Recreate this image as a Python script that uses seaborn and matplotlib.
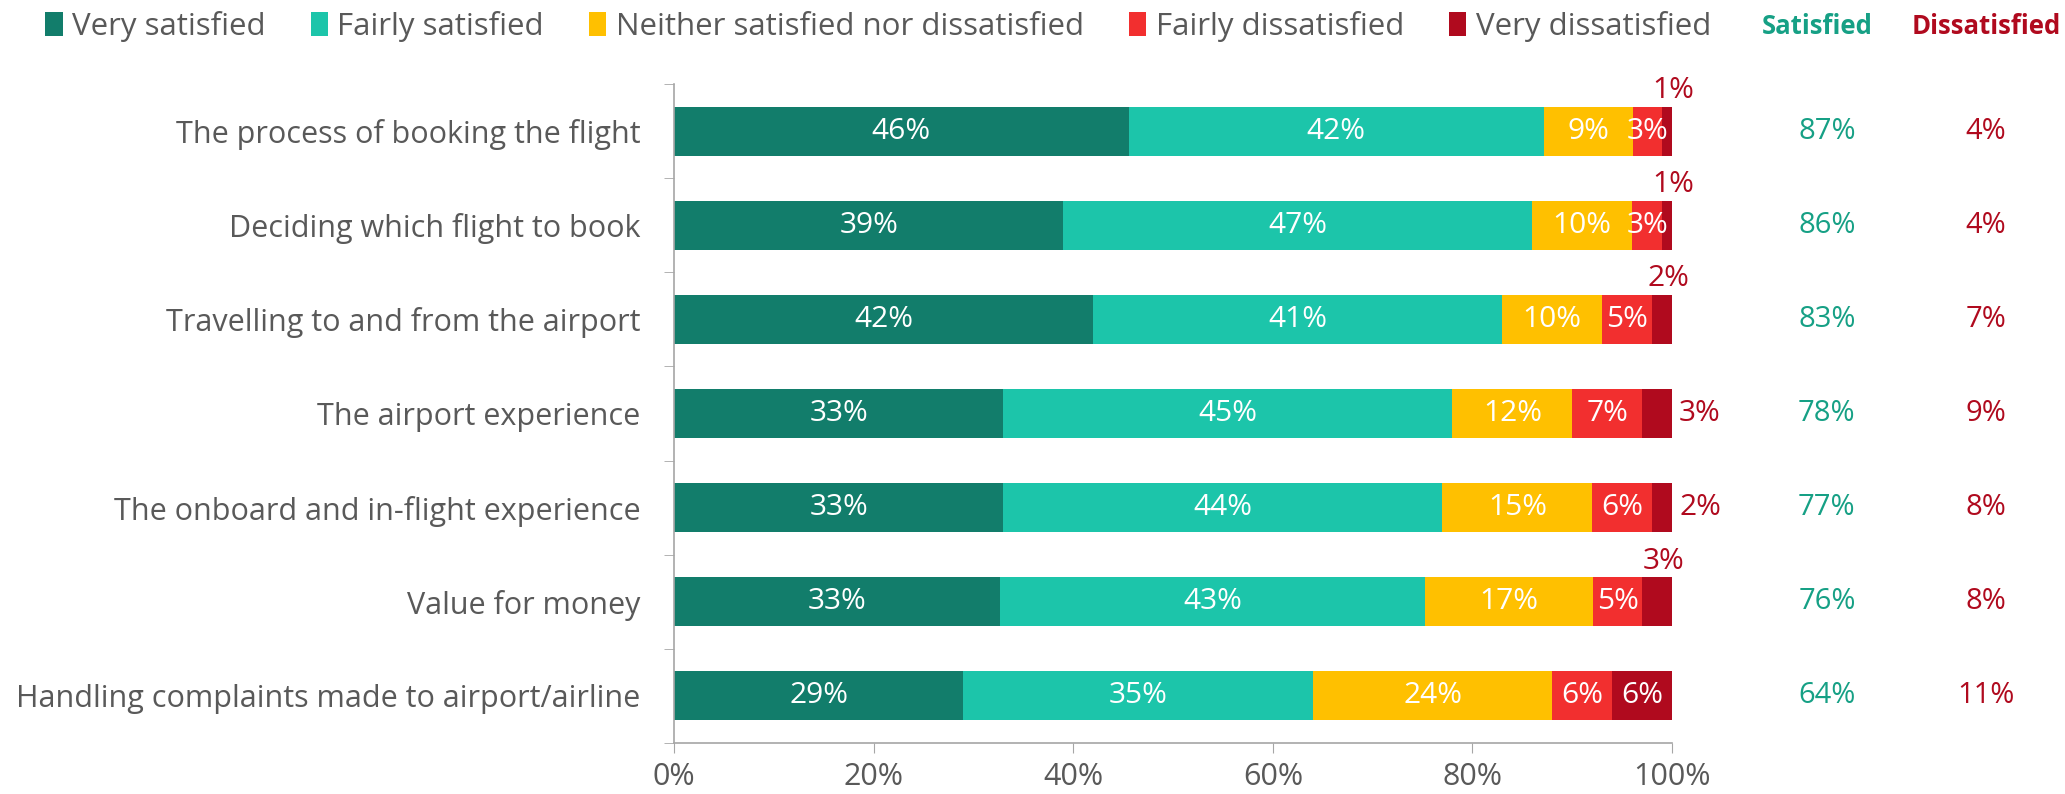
import numpy as np
import pandas as pd
import matplotlib
matplotlib.use("Agg")
import matplotlib.pyplot as plt
import matplotlib.transforms as mtransforms
from matplotlib.patches import Patch
from matplotlib.ticker import FixedLocator, PercentFormatter
import seaborn as sns

# data (percent of respondents)
questions = [
    "The process of booking the flight",
    "Deciding which flight to book",
    "Travelling to and from the airport",
    "The airport experience",
    "The onboard and in-flight experience",
    "Value for money",
    "Handling complaints made to airport/airline",
]
levels = ["Very satisfied", "Fairly satisfied", "Neither satisfied nor dissatisfied",
          "Fairly dissatisfied", "Very dissatisfied"]
very_satisfied = [46, 39, 42, 33, 33, 33, 29]
fairly_satisfied = [42, 47, 41, 45, 44, 43, 35]
neither = [9, 10, 10, 12, 15, 17, 24]
fairly_dissatisfied = [3, 3, 5, 7, 6, 5, 6]
very_dissatisfied = [1, 1, 2, 3, 2, 3, 6]
net_satisfied = [87, 86, 83, 78, 77, 76, 64]
net_dissatisfied = [4, 4, 7, 9, 8, 8, 11]

colors = ["#127d6b", "#1cc5aa", "#ffc000", "#f22f2f", "#b00a1e"]
sat_color = "#16a085"
dis_color = "#b00a1e"
text_gray = "#595959"
# where the small "very dissatisfied" label goes when it does not fit in the bar
small_label_pos = ["above", "above", "above", "right", "right", "above", None]

df = pd.DataFrame({
    "question": questions,
    levels[0]: very_satisfied,
    levels[1]: fairly_satisfied,
    levels[2]: neither,
    levels[3]: fairly_dissatisfied,
    levels[4]: very_dissatisfied,
})
vals = df[levels].to_numpy(dtype=float)
shares = vals / vals.sum(axis=1, keepdims=True) * 100  # 100% stacked
cum = np.cumsum(shares, axis=1)

plt.rcParams["font.family"] = ["Open Sans", "DejaVu Sans"]

fig = plt.figure(figsize=(20.65, 7.94), dpi=100)
ax = fig.add_axes([0.3264, 0.0642, 0.4833, 0.830])

# draw from the right-most cumulative total back to the left so segments stack
for i in range(len(levels) - 1, -1, -1):
    sns.barplot(x=cum[:, i], y=df["question"], color=colors[i], orient="h",
                width=0.52, ax=ax, saturation=1, edgecolor="none")

# segment labels
for r in range(len(questions)):
    for i, lvl in enumerate(levels):
        v = vals[r, i]
        start = cum[r, i] - shares[r, i]
        mid = start + shares[r, i] / 2
        label = f"{int(v)}%"
        if i == 4 and small_label_pos[r] == "above":
            ax.text(mid + 0.6, r - 0.43, label, ha="center", va="center",
                    color=dis_color, fontsize=21.5)
        elif i == 4 and small_label_pos[r] == "right":
            ax.text(100.7, r, label, ha="left", va="center",
                    color=dis_color, fontsize=21.5)
        else:
            ax.text(mid, r, label, ha="center", va="center",
                    color="white", fontsize=21.5)

# net satisfied / dissatisfied columns
trans = mtransforms.blended_transform_factory(fig.transFigure, ax.transData)
for r in range(len(questions)):
    ax.text(0.8847, r, f"{net_satisfied[r]}%", transform=trans, ha="center",
            va="center", color=sat_color, fontsize=21)
    ax.text(0.9617, r, f"{net_dissatisfied[r]}%", transform=trans, ha="center",
            va="center", color=dis_color, fontsize=21)
fig.text(0.880, 0.967, "Satisfied", ha="center", va="center",
         color=sat_color, fontsize=18.5, fontweight="bold")
fig.text(0.9617, 0.967, "Dissatisfied", ha="center", va="center",
         color=dis_color, fontsize=18.5, fontweight="bold")

# axes styling
ax.set_xlim(0, 100)
ax.set_ylim(len(questions) - 0.5, -0.5)
ax.set_xlabel("")
ax.set_ylabel("")
ax.xaxis.set_major_locator(FixedLocator([0, 20, 40, 60, 80, 100]))
ax.xaxis.set_major_formatter(PercentFormatter(decimals=0))
ax.yaxis.set_minor_locator(FixedLocator(np.arange(-0.5, len(questions), 1)))
ax.tick_params(axis="y", which="major", length=0, pad=24, labelsize=22,
               labelcolor=text_gray)
ax.tick_params(axis="y", which="minor", length=7, color="#a6a6a6")
ax.tick_params(axis="x", length=7, color="#a6a6a6", labelsize=22,
               labelcolor=text_gray, pad=7)
for s in ["top", "right"]:
    ax.spines[s].set_visible(False)
for s in ["left", "bottom"]:
    ax.spines[s].set_color("#a6a6a6")
    ax.spines[s].set_linewidth(1.2)

handles = [Patch(facecolor=c, edgecolor="none") for c in colors]
fig.legend(handles, levels, loc="center left", bbox_to_anchor=(0.022, 0.967),
           ncol=5, frameon=False, fontsize=22.5, handlelength=0.55,
           handleheight=0.8, handletextpad=0.3, columnspacing=1.45,
           labelcolor=text_gray, borderaxespad=0, borderpad=0)

fig.savefig("out.png", dpi=100)
